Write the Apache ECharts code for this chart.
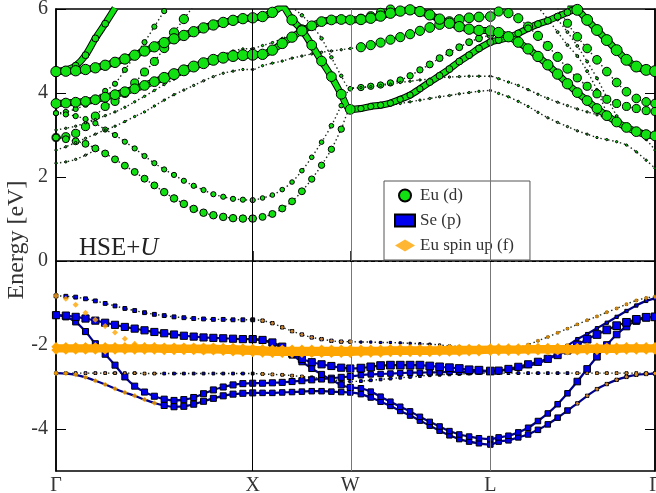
<!DOCTYPE html>
<html><head><meta charset="utf-8">
<script src="https://cdn.jsdelivr.net/npm/echarts@6/dist/echarts.min.js"></script>
<style>html,body{margin:0;padding:0;background:#fff}#c{width:656px;height:493px}</style>
</head><body><div id="c"></div>
<script>
// k-path sampling (units of 2pi/a along path)
const kGX = [0,0.05,0.1,0.15,0.2,0.25,0.3,0.35,0.4,0.45,0.5,0.55,0.6,0.65,0.7,0.75,0.8,0.85,0.9,0.95,1];
const kXW = [1.05,1.1,1.15,1.2,1.25,1.3,1.35,1.4,1.45,1.496];
const kWL = [1.55,1.6,1.65,1.7,1.75,1.8,1.85,1.9,1.95,2,2.05,2.1,2.15,2.208];
const kLG = [2.25,2.3,2.35,2.4,2.45,2.5,2.55,2.6,2.65,2.7,2.75,2.8,2.85,2.9,2.95,3,3.045];
const kHigh = [0, 1, 1.496, 2.208, 3.045];
const kLabels = ['Γ','X','W','L','Γ'];
const yTicks = [-4,-2,0,2,4,6];

// ---- valence bands (eV), Gamma-X | X-W | W-L | L-Gamma
const vb1 = [-0.83,-0.84,-0.86,-0.90,-0.95,-1.01,-1.07,-1.13,-1.18,-1.23,-1.27,-1.30,-1.33,-1.35,-1.37,-1.38,-1.39,-1.39,-1.40,-1.40,-1.40,
  -1.42,-1.48,-1.58,-1.67,-1.75,-1.82,-1.86,-1.90,-1.92,-1.92,
  -1.93,-1.93,-1.94,-1.94,-1.95,-1.96,-1.97,-1.98,-2.00,-2.02,-2.04,-2.06,-2.08,-2.10,
  -2.09,-2.08,-2.06,-1.99,-1.90,-1.81,-1.71,-1.61,-1.51,-1.41,-1.32,-1.22,-1.13,-1.03,-0.94,-0.88,-0.85];
const vb2 = [-1.29,-1.30,-1.33,-1.37,-1.42,-1.47,-1.52,-1.57,-1.61,-1.65,-1.69,-1.72,-1.75,-1.78,-1.80,-1.82,-1.83,-1.84,-1.85,-1.86,-1.86,
  -1.88,-1.94,-2.04,-2.20,-2.33,-2.41,-2.46,-2.50,-2.54,-2.56,
  -2.55,-2.52,-2.49,-2.48,-2.48,-2.48,-2.48,-2.50,-2.52,-2.54,-2.56,-2.59,-2.60,-2.62,
  -2.61,-2.57,-2.52,-2.46,-2.40,-2.33,-2.24,-2.13,-2.00,-1.86,-1.75,-1.64,-1.54,-1.46,-1.39,-1.34,-1.33];
const vb2b = [null,null,null,null,null,null,null,null,null,null,null,null,null,null,null,null,null,null,null,null,-1.86,
  -1.89,-1.96,-2.08,-2.24,-2.40,-2.56,-2.70,-2.83,-2.95,-3.01,
  -3.03,-3.11,-3.23,-3.35,-3.47,-3.58,-3.71,-3.83,-3.94,-4.05,-4.13,-4.18,-4.22,-4.24,
  -4.20,-4.16,-4.08,-3.97,-3.81,-3.63,-3.41,-3.15,-2.87,-2.57,-2.28,-2.00,-1.75,-1.56,-1.43,-1.35,-1.33];
const vb3 = [-1.29,-1.33,-1.45,-1.68,-1.97,-2.22,-2.48,-2.76,-2.98,-3.12,-3.22,-3.29,-3.32,-3.30,-3.25,-3.16,-3.07,-3.00,-2.95,-2.92,-2.91,
  -2.91,-2.90,-2.89,-2.87,-2.85,-2.83,-2.81,-2.79,-2.77,-2.75,
  -2.72,-2.70,-2.69,-2.68,-2.67,-2.66,-2.66,-2.65,-2.65,-2.64,-2.64,-2.64,-2.63,-2.63,
  -2.61,-2.59,-2.56,-2.50,-2.44,-2.33,-2.20,-2.02,-1.86,-1.74,-1.60,-1.47,-1.33,-1.19,-1.06,-0.95,-0.89];
const vb4 = [-2.67,-2.68,-2.71,-2.77,-2.85,-2.94,-3.04,-3.13,-3.21,-3.30,-3.38,-3.44,-3.47,-3.46,-3.41,-3.34,-3.27,-3.21,-3.17,-3.15,-3.14,
  -3.14,-3.14,-3.13,-3.12,-3.11,-3.10,-3.10,-3.11,-3.12,-3.13,
  -3.17,-3.25,-3.35,-3.45,-3.57,-3.68,-3.80,-3.92,-4.04,-4.15,-4.24,-4.30,-4.34,-4.37,
  -4.30,-4.27,-4.20,-4.13,-4.02,-3.89,-3.73,-3.56,-3.39,-3.21,-3.05,-2.93,-2.83,-2.76,-2.71,-2.69,-2.68];
const vb5 = [-2.67,-2.67,-2.67,-2.67,-2.67,-2.67,-2.67,-2.67,-2.67,-2.68,-2.68,-2.68,-2.68,-2.68,-2.68,-2.68,-2.68,-2.68,-2.68,-2.68,-2.68,
  -2.69,-2.70,-2.71,-2.73,-2.75,-2.77,-2.80,-2.83,-2.85,-2.87,
  -2.86,-2.84,-2.82,-2.80,-2.78,-2.76,-2.74,-2.72,-2.71,-2.70,-2.69,-2.68,-2.67,-2.67,
  -2.67,-2.67,-2.67,-2.67,-2.67,-2.67,-2.67,-2.67,-2.67,-2.67,-2.67,-2.67,-2.67,-2.67,-2.67,-2.67,-2.67];
// Eu 4f bands
const f1 = [-0.83,-0.90,-1.04,-1.23,-1.40,-1.55,-1.70,-1.85,-1.97,-2.04,-2.07,null,null,null,null,null,null,null,null,null,null,
  null,null,null,null,null,null,null,null,null,null,
  null,null,null,null,null,null,null,null,null,null,null,null,null,null,
  null,null,null,null,null,null,null,null,null,null,null,null,null,null,null,null,null];
const fA = [-2.04,-2.04,-2.04,-2.04,-2.04,-2.04,-2.04,-2.04,-2.04,-2.04,-2.04,-2.05,-2.05,-2.05,-2.05,-2.05,-2.05,-2.06,-2.06,-2.07,-2.08,
  -2.09,-2.10,-2.10,-2.10,-2.10,-2.10,-2.10,-2.10,-2.10,-2.10,
  -2.10,-2.10,-2.10,-2.09,-2.09,-2.09,-2.09,-2.09,-2.09,-2.08,-2.08,-2.08,-2.08,-2.07,
  -2.07,-2.07,-2.07,-2.06,-2.06,-2.06,-2.06,-2.06,-2.06,-2.05,-2.05,-2.05,-2.05,-2.04,-2.04,-2.04,-2.04];
const fB = [-2.12,-2.12,-2.12,-2.12,-2.12,-2.12,-2.12,-2.12,-2.12,-2.12,-2.12,-2.13,-2.13,-2.13,-2.13,-2.14,-2.14,-2.15,-2.16,-2.17,-2.18,
  -2.19,-2.20,-2.20,-2.20,-2.20,-2.20,-2.20,-2.20,-2.20,-2.20,
  -2.19,-2.19,-2.19,-2.18,-2.18,-2.18,-2.18,-2.18,-2.17,-2.17,-2.17,-2.16,-2.16,-2.15,
  -2.15,-2.15,-2.15,-2.14,-2.14,-2.14,-2.14,-2.14,-2.14,-2.13,-2.13,-2.13,-2.13,-2.12,-2.12,-2.12,-2.12];

// ---- conduction bands (eV)
const cb1 = [2.94,2.90,2.85,2.79,2.68,2.56,2.42,2.27,2.12,1.96,1.80,1.64,1.49,1.36,1.24,1.15,1.09,1.05,1.02,1.01,1.01,
  1.05,1.12,1.25,1.42,1.66,1.95,2.28,2.66,3.14,3.60,
  3.62,3.64,3.67,3.71,3.75,3.79,3.83,3.87,3.91,3.94,3.98,4.01,4.04,4.06,
  3.99,3.91,3.80,3.68,3.54,3.41,3.30,3.20,3.10,3.02,2.94,2.89,2.84,2.76,2.60,2.40,2.21];
const cb2 = [3.52,3.49,3.45,3.38,3.28,3.13,3.00,2.84,2.68,2.50,2.33,2.18,2.05,1.91,1.79,1.69,1.59,1.53,1.48,1.46,1.45,
  1.50,1.57,1.70,1.88,2.15,2.47,2.83,3.22,3.70,4.10,
  4.13,4.15,4.18,4.21,4.25,4.28,4.31,4.33,4.36,4.38,4.39,4.40,4.40,4.40,
  4.34,4.26,4.18,4.08,3.97,3.87,3.78,3.70,3.62,3.55,3.48,3.39,3.29,3.19,3.07,2.89,2.64];
const cb3 = [2.33,2.36,2.42,2.52,2.64,null,null,null,null,null,null,null,null,null,null,null,null,null,null,null,null,
  null,null,null,null,null,null,null,null,null,null,
  null,null,null,null,null,null,null,null,null,null,null,null,null,null,
  null,null,null,null,null,null,null,null,null,null,null,null,null,null,null,null,null];
const cb4 = [3.75,3.76,3.78,3.80,3.84,3.90,3.96,4.03,4.10,4.18,4.27,4.36,4.45,4.54,4.63,4.71,4.79,4.84,4.88,4.90,4.91,
  4.92,5.02,5.18,5.33,5.48,5.60,5.70,5.74,5.75,5.74,
  5.75,5.78,5.83,5.90,5.95,5.98,5.94,5.86,5.76,5.66,5.58,5.52,5.49,5.48,
  5.44,5.34,5.21,5.05,4.87,4.67,4.45,4.22,4.01,3.82,3.63,3.46,3.31,3.18,3.08,3.01,2.98];
const cb5 = [4.51,4.52,4.53,4.56,4.60,4.66,4.73,4.81,4.90,5.00,5.10,5.20,5.29,5.37,5.46,5.55,5.62,5.68,5.73,5.77,5.79,
  5.82,5.92,6.05,5.74,5.50,5.14,4.76,4.39,3.97,3.61,
  3.63,3.68,3.71,3.76,3.85,3.95,4.10,4.26,4.41,4.57,4.75,4.90,5.06,5.21,
  5.26,5.32,5.42,5.54,5.64,5.72,5.82,5.92,6.02,null,null,null,null,null,null,null,null];
const cb6 = [3.12,3.16,3.21,3.29,3.37,3.46,3.55,3.66,3.79,3.92,4.06,4.20,4.33,4.47,4.60,4.71,4.82,4.92,5.00,5.05,5.06,
  5.13,5.20,5.30,5.40,5.49,5.58,5.65,5.70,5.73,5.74,
  5.78,5.84,5.92,6.00,6.05,null,null,null,null,null,null,null,null,null,
  null,null,null,null,null,null,6.02,5.66,5.34,5.06,4.79,4.51,4.25,4.03,3.87,3.79,3.75];
const cb7 = [2.64,2.72,2.82,2.92,3.02,3.12,3.21,3.32,3.44,3.55,3.69,3.83,3.96,4.07,4.18,4.29,4.39,4.47,4.52,4.56,4.56,
  4.65,4.71,4.76,4.83,4.88,4.93,4.97,5.00,5.03,5.06,
  5.09,5.14,5.20,5.27,5.33,5.40,5.48,5.56,5.63,5.70,5.75,5.79,5.81,5.82,
  5.94,5.90,5.78,5.58,5.36,5.12,4.86,4.58,4.36,4.16,3.98,3.85,3.75,3.68,3.63,3.58,3.56];
const cb8 = [4.51,4.55,4.65,4.90,5.30,5.65,6.02,null,null,null,null,null,null,null,null,null,null,null,null,null,null,
  null,null,null,null,null,null,null,null,null,null,
  null,null,null,null,null,null,null,null,null,null,null,null,null,null,
  null,null,null,null,null,null,null,6.06,5.98,5.74,5.50,5.26,5.02,4.79,4.63,4.55,4.52];
const cb9 = [3.52,3.55,3.62,3.72,3.88,4.05,4.22,4.55,4.88,5.21,5.58,5.95,6.28,null,null,null,null,null,null,null,null,
  null,null,null,null,null,null,null,null,null,null,
  null,null,null,null,null,null,null,null,null,null,null,null,null,null,
  null,null,null,null,6.05,5.76,5.45,5.14,4.88,4.52,4.07,3.52,null,null,null,null,null];
const cb10 = [2.94,2.96,3.04,3.20,3.45,3.68,3.80,3.99,4.24,4.50,4.75,5.07,5.44,5.76,6.08,null,null,null,null,null,null,
  null,null,null,null,null,null,null,null,null,null,
  null,null,null,null,null,null,null,null,null,null,null,null,null,null,
  null,null,null,null,null,null,5.75,5.45,5.12,4.75,4.35,3.90,3.45,null,null,null,null];
const cb11 = [null,null,null,null,null,null,null,null,null,null,null,null,null,null,null,null,null,null,null,null,null,
  null,null,null,6.05,5.85,5.61,5.30,4.85,4.41,4.11,
  4.13,4.16,4.19,4.24,4.31,4.41,4.55,4.68,4.83,4.96,5.09,5.21,5.30,5.38,
  null,null,null,null,null,null,null,null,null,null,null,null,null,null,null,null,null];

// ---- orbital projections, one value per half path segment
const vb1P = [0.35,0.35,0.3,0.3,0.2,0.2,0.2,0.2];
const vb2P = [0.65,0.65,0.65,0.65,0.7,0.7,0.65,0.7];
const vb2bP = [0.6,0.6,0.55,0.55,0.5,0.5,0.5,0.6];
const vb3P = [0.55,0.55,0.55,0.55,0.5,0.5,0.3,0.3];
const vb4P = [0.15,0.55,0.5,0.5,0.5,0.5,0.5,0.3];
const vb5P = [0.25,0.25,0.25,0.25,0.25,0.25,0.25,0.25];
const vb1F = [0,0,0.35,0.35,0,0,0.4,0.4];
const vb4F = [0.5,0,0,0,0,0,0,0.35];
const vb5F = [0.25,0,0.3,0,0,0,0,0.3];
const f1F = [0.55,0.55,0,0,0,0,0,0];
const fFlatF = [0.85,0.85,0.85,0.85,0.85,0.85,0.85,0.85];
const cb1D = [0.6,0.65,0.6,0.55,0.2,0.2,0.2,0.2];
const cb2D = [0.45,0.45,0.4,0.4,0.2,0.2,0.2,0.2];
const cb3D = [0.2,0.2,0.2,0.2,0.2,0.2,0.2,0.2];
const cb4D = [0.85,0.95,0.9,0.85,0.9,0.9,0.9,0.85];
const cb5D = [0.9,0.9,0.9,0.85,0.55,0.6,0.6,0.5];
const cb6D = [0.2,0.2,0.2,0.2,0.7,0.7,0.7,0.75];
const cb7D = [0.2,0.2,0.2,0.2,0.8,0.85,0.8,0.7];
const cb8D = [0.6,0.6,0,0,0,0,0.9,0.95];
const cb9D = [0.45,0.45,0,0,0,0,0.25,0.25];
const cb10D = [0.7,0.8,0,0,0,0,0.25,0.25];
const cb11D = [0.3,0.3,0.3,0.3,0.55,0.6,0.5,0.5];

const kPath = kGX.concat(kXW, kWL, kLG);
function half(i){ if(i<=10)return 0; if(i<=20)return 1; if(i<=25)return 2; if(i<=30)return 3; if(i<=37)return 4; if(i<=44)return 5; if(i<=52)return 6; return 7; }
function pts(E, W){ return kPath.map((k,i)=> E[i]==null ? [k,'-',0] : [k, E[i], W[half(i)]]); }

const GREEN='#11e011', BLUE='#0000ee', ORANGE='#ffa500';
const serif='"Liberation Serif","DejaVu Serif",serif';
const DOT={color:'#1a2a1a', width:1.4, type:[1.4,2.6]};
const series=[];
// reference lines
series.push({type:'line', data:[], silent:true, z:1, markLine:{silent:true, symbol:'none', animation:false, label:{show:false},
  data:[{xAxis:kHigh[1], lineStyle:{color:'#000',width:1,type:'solid'}},
        {xAxis:kHigh[2], lineStyle:{color:'#777',width:1,type:'solid'}},
        {xAxis:kHigh[3], lineStyle:{color:'#777',width:1,type:'solid'}},
        {yAxis:0, lineStyle:{color:'#000',width:1,type:[4,3]}}]}});
function lineBand(name, E, W, color, symbol, scale, z, ls){
  return {type:'line', name, data:pts(E,W), smooth:0.3, showAllSymbol:true, symbol, z,
    symbolSize:v=>v[2]*scale, itemStyle:{color, borderColor:'#000', borderWidth:1},
    lineStyle:ls, emphasis:{disabled:true}, animation:false};
}
function outline(E, W, width){
  return {type:'line', name:'', data:pts(E,W), smooth:0.3, symbol:'none', z:3, silent:true,
    lineStyle:{color:'#000', width}, emphasis:{disabled:true}, animation:false};
}
const greenTube={color:GREEN, width:5, type:'solid'};
const blueTube={color:'#00008a', width:2.2, type:'solid'};
[[cb3,cb3D,DOT],[cb11,cb11D,DOT],[cb9,cb9D,DOT],[cb10,cb10D,DOT],[cb1,cb1D,DOT],[cb2,cb2D,DOT],[cb6,cb6D,DOT],[cb7,cb7D,DOT]]
  .forEach(b=>series.push(lineBand('Eu (d)', b[0], b[1], GREEN, 'circle', 11.5, 3, b[2])));
[[cb8,cb8D],[cb5,cb5D],[cb4,cb4D]].forEach(b=>{
  series.push(outline(b[0], b[1], 7));
  series.push(lineBand('Eu (d)', b[0], b[1], GREEN, 'circle', 11.5, 3, greenTube));
});
[[vb5,vb5P,DOT],[vb1,vb1P,DOT],[vb4,vb4P,blueTube],[vb3,vb3P,blueTube],[vb2b,vb2bP,blueTube],[vb2,vb2P,blueTube]]
  .forEach(b=>series.push(lineBand('Se (p)', b[0], b[1], BLUE, 'rect', 11, 4, b[2])));
[[vb1,vb1F],[vb4,vb4F],[vb5,vb5F],[f1,f1F]].forEach(b=>series.push({type:'scatter', name:'Eu spin up (f)', data:pts(b[0],b[1]),
  symbol:'diamond', z:6, symbolSize:v=>v[2]*11, itemStyle:{color:ORANGE}, emphasis:{disabled:true}, animation:false}));
[fA,fB].forEach(E=>series.push({type:'line', name:'Eu spin up (f)', data:pts(E,fFlatF), showAllSymbol:true, symbol:'diamond', z:6,
  symbolSize:v=>v[2]*11, itemStyle:{color:ORANGE}, lineStyle:{color:ORANGE, width:5}, emphasis:{disabled:true}, animation:false}));

const chart = echarts.init(document.getElementById('c'), null, {renderer:'canvas'});
chart.setOption({
  animation:false,
  backgroundColor:'#fff',
  grid:{left:56, right:1, top:9, bottom:22, outerBoundsMode:'none', containLabel:false, show:true, borderColor:'#000', borderWidth:1.5, backgroundColor:'transparent'},
  title:{text:'{a|HSE+}{b|U}', left:74, top:231, textStyle:{fontWeight:'normal', rich:{
    a:{fontFamily:serif, fontSize:25, fontWeight:'normal', color:'#222'}, b:{fontFamily:serif, fontSize:25, fontWeight:'normal', fontStyle:'italic', color:'#222'}}}},
  legend:{orient:'vertical', left:384, top:181, padding:[6,16,6,10], itemGap:8, itemWidth:20, itemHeight:12,
    backgroundColor:'#fff', borderColor:'#555', borderWidth:1, selectedMode:false,
    textStyle:{fontFamily:serif, fontSize:17, color:'#333', lineHeight:14},
    data:[{name:'Eu (d)', icon:'circle'},{name:'Se (p)', icon:'rect'},{name:'Eu spin up (f)', icon:'diamond'}]},
  xAxis:{type:'value', min:0, max:kHigh[4], splitLine:{show:false},
    axisLine:{lineStyle:{color:'#000', width:1.5}},
    axisTick:{show:true, inside:true, length:10, customValues:kHigh.slice(1,4), lineStyle:{color:'#000',width:1.5}},
    axisLabel:{customValues:kHigh, formatter:(v)=>{const i=kHigh.findIndex(h=>Math.abs(h-v)<1e-6); return i>=0?kLabels[i]:'';},
      fontFamily:serif, fontSize:20, color:'#333', margin:5}},
  yAxis:[{type:'value', min:-5, max:6, interval:1, splitLine:{show:false},
    name:'Energy [eV]', nameLocation:'middle', nameRotate:90, nameGap:27, nameMoveOverlap:false,
    nameTextStyle:{fontFamily:serif, fontSize:24, color:'#333'},
    axisLine:{show:true, lineStyle:{color:'#000', width:1.5}},
    axisTick:{show:true, inside:true, length:10, customValues:yTicks, lineStyle:{color:'#000',width:1}},
    axisLabel:{customValues:yTicks, fontFamily:serif, fontSize:20, color:'#333', margin:8}},
   {type:'value', min:-5, max:6, interval:1, position:'right', splitLine:{show:false},
    axisLine:{show:true, lineStyle:{color:'#000', width:1.5}},
    axisTick:{show:true, inside:true, length:10, customValues:yTicks, lineStyle:{color:'#000',width:1}},
    axisLabel:{show:false}}],
  series
});
</script></body></html>
